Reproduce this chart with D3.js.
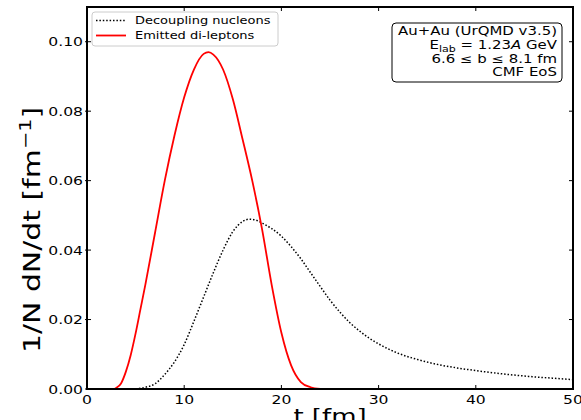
<!DOCTYPE html>
<html>
<head>
<meta charset="utf-8">
<script src="https://cdn.jsdelivr.net/npm/d3@7"></script>
<style>
  html, body { margin: 0; padding: 0; background: #fff; }
  svg { display: block; font-family: "DejaVu Sans", sans-serif; }
</style>
</head>
<body>
<svg id="chart" width="581" height="420"></svg>
<script>
// Time axis values (fm) and the two normalized rate distributions
const tNucleons = [5, 6, 7, 8, 9, 10, 11, 12, 13, 14, 15, 16, 16.7, 17.5, 18, 19, 20, 21, 22, 23, 24, 25, 26, 27, 28, 29, 30, 32, 34, 36, 38, 40, 42, 44, 46, 48, 50];
const decouplingNucleons = [0, 0.0005, 0.0015, 0.0042, 0.0078, 0.0128, 0.0195, 0.0265, 0.0335, 0.0400, 0.0453, 0.0482, 0.0489, 0.0485, 0.0478, 0.0462, 0.0440, 0.0410, 0.0375, 0.0335, 0.0295, 0.0256, 0.0222, 0.0192, 0.0168, 0.0147, 0.0130, 0.0103, 0.0085, 0.0071, 0.0061, 0.0053, 0.0046, 0.0040, 0.0035, 0.0031, 0.0027];

const tLeptons = [2.8, 3.0, 3.5, 4.0, 4.5, 5.0, 5.5, 6, 7, 8, 9, 10, 11, 12, 12.5, 13, 14, 15, 16, 17, 18, 19, 20, 21, 22, 23, 24];
const emittedDileptons = [0, 0.0003, 0.0016, 0.0050, 0.0098, 0.0160, 0.0230, 0.0300, 0.0450, 0.0600, 0.0730, 0.0840, 0.0920, 0.0965, 0.0970, 0.0963, 0.0920, 0.0835, 0.0720, 0.0600, 0.0462, 0.0300, 0.0162, 0.0068, 0.0020, 0.0005, 0];

const xTicks = [0, 10, 20, 30, 40, 50];
const yTicks = [0, 0.02, 0.04, 0.06, 0.08, 0.10];
const legendLabels = ["Decoupling nucleons", "Emitted di-leptons"];
const infoLines = ["Au+Au (UrQMD v3.5)", "E|lab| = 1.23|A| GeV", "6.6 ≤ b ≤ 8.1 fm", "CMF EoS"];

const SX = 1.3;           // wide glyph aspect used for all labels
const svg = d3.select("#chart");
const plot = { left: 87, right: 573, top: 7, bottom: 389 };

const x = d3.scaleLinear().domain([0, 50]).range([plot.left, plot.right]);
const y = d3.scaleLinear().domain([0, 0.11]).range([plot.bottom, plot.top]);

function label(g, px, py, size, anchor) {
  return g.append("text")
    .attr("transform", `translate(${px},${py}) scale(${SX},1)`)
    .attr("font-size", size)
    .attr("text-anchor", anchor)
    .attr("fill", "#000");
}

// Curves
const line = d3.line().curve(d3.curveMonotoneX);

svg.append("path")
  .attr("d", line(tNucleons.map((t, i) => [x(t), y(decouplingNucleons[i])])))
  .attr("fill", "none")
  .attr("stroke", "#000")
  .attr("stroke-width", 1.5)
  .attr("stroke-dasharray", "1.5,1.9");

svg.append("path")
  .attr("d", line(tLeptons.map((t, i) => [x(t), y(emittedDileptons[i])])))
  .attr("fill", "none")
  .attr("stroke", "#ff0000")
  .attr("stroke-width", 1.8);

// Ticks on all four sides, pointing inward
const tickLen = 4;
const axisG = svg.append("g").attr("stroke", "#000").attr("stroke-width", 1);
xTicks.forEach(v => {
  axisG.append("line").attr("x1", x(v)).attr("x2", x(v)).attr("y1", plot.bottom).attr("y2", plot.bottom - tickLen);
  axisG.append("line").attr("x1", x(v)).attr("x2", x(v)).attr("y1", plot.top).attr("y2", plot.top + tickLen);
});
yTicks.forEach(v => {
  axisG.append("line").attr("x1", plot.left - 2).attr("x2", plot.left + tickLen).attr("y1", y(v)).attr("y2", y(v));
  axisG.append("line").attr("x1", plot.right).attr("x2", plot.right - tickLen).attr("y1", y(v)).attr("y2", y(v));
});

// Frame
svg.append("rect")
  .attr("x", plot.left).attr("y", plot.top)
  .attr("width", plot.right - plot.left).attr("height", plot.bottom - plot.top)
  .attr("fill", "none").attr("stroke", "#000").attr("stroke-width", 2);

// Tick labels
const fmtY = d3.format(".2f");
yTicks.forEach(v => {
  label(svg, 83, y(v) + 4.5, 12, "end").text(fmtY(v));
});
xTicks.forEach(v => {
  label(svg, x(v), 403.5, 12, "middle").text(d3.format("d")(v));
});

// Axis titles
label(svg, 330, 423, 20, "middle").text("t [fm]");
const yt = svg.append("text")
  .attr("transform", `translate(40,230) rotate(-90) scale(${SX},1)`)
  .attr("font-size", 23)
  .attr("text-anchor", "middle")
  .attr("fill", "#000");
yt.append("tspan").text("1/N dN/dt [fm");
yt.append("tspan").attr("font-size", 16).attr("dy", -9).text("−1");
yt.append("tspan").attr("dy", 9).text("]");

// Legend
const leg = svg.append("g");
leg.append("rect")
  .attr("x", 92).attr("y", 12).attr("width", 186).attr("height", 34).attr("rx", 3)
  .attr("fill", "#fff").attr("fill-opacity", 0.8)
  .attr("stroke", "#cccccc").attr("stroke-width", 1);
const legendStyles = [
  { stroke: "#000", width: 1.5, dash: "1.5,1.9" },
  { stroke: "#ff0000", width: 1.8, dash: null }
];
legendLabels.forEach((name, i) => {
  const cy = 20.5 + i * 15;
  leg.append("line")
    .attr("x1", 96).attr("x2", 126).attr("y1", cy).attr("y2", cy)
    .attr("stroke", legendStyles[i].stroke)
    .attr("stroke-width", legendStyles[i].width)
    .attr("stroke-dasharray", legendStyles[i].dash);
  label(leg, 135, cy + 3.8, 10, "start").text(name);
});

// Collision info box
const info = svg.append("g");
info.append("rect")
  .attr("x", 392).attr("y", 23).attr("width", 170).attr("height", 59).attr("rx", 4)
  .attr("fill", "#fff").attr("stroke", "#000").attr("stroke-width", 1);
const infoBase = [35, 49, 62.5, 76];
infoLines.forEach((s, i) => {
  const t = label(info, 557, infoBase[i], 11.5, "end");
  if (i === 1) {
    const parts = s.split("|");
    t.append("tspan").text(parts[0]);
    t.append("tspan").attr("font-size", 8.5).attr("dy", 3).text(parts[1]);
    t.append("tspan").attr("dy", -3).text(parts[2]);
    t.append("tspan").attr("font-style", "italic").text(parts[3]);
    t.append("tspan").text(parts[4]);
  } else {
    t.text(s);
  }
});
</script>
</body>
</html>
